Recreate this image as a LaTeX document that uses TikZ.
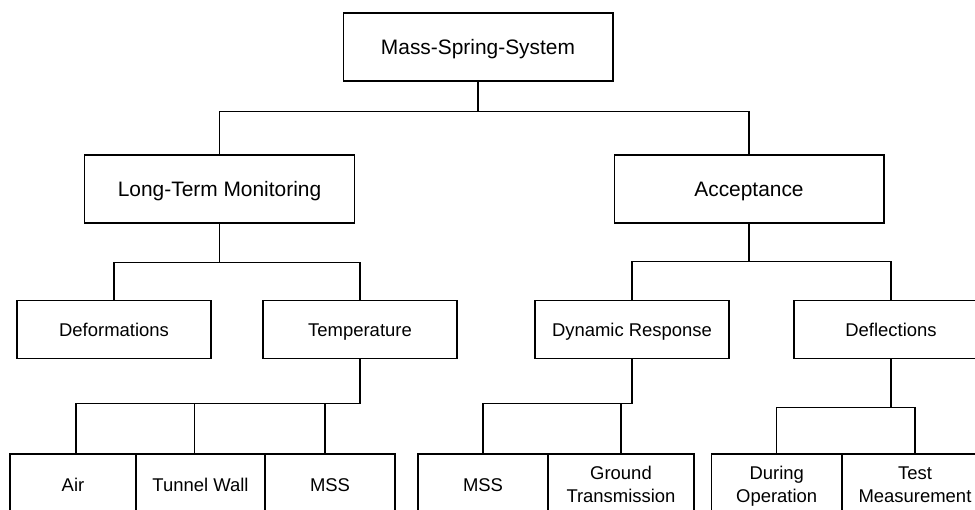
\documentclass[tikz,border=0pt]{standalone}
\usepackage{fontspec}
\setmainfont{Liberation Sans}
\tikzset{
    box/.style={draw, line width=0.6pt, inner sep=0pt, align=center},
    topbox/.style={box, minimum width=5.4cm, minimum height=1.36cm, text height=8.5pt, text depth=0pt, font=\fontsize{11.9}{14}\selectfont},
    subbox/.style={box, minimum width=3.88cm, minimum height=1.15cm, text height=7.5pt, text depth=0pt, font=\fontsize{10.5}{13}\selectfont},
    leafbox/.style={box, minimum height=1.22cm, text depth=0pt, font=\fontsize{10.5}{13.2}\selectfont},
    oneline/.style={text height=7.5pt},
}
\begin{document}
\begin{tikzpicture}[x=0.02cm, y=-0.02cm, line width=0.6pt]
        \path[use as bounding box, clip] (0, 0) rectangle (975, 510);
        % top levels
        \node[topbox] (mss) at (478, 47) {Mass-Spring-System};
        \node[topbox] (ltm) at (219.5, 189) {Long-Term Monitoring};
        \node[topbox] (acc) at (749, 189) {Acceptance};
        % third level
        \node[subbox] (def) at (114, 329.5) {Deformations};
        \node[subbox] (temp) at (360, 329.5) {Temperature};
        \node[subbox] (dyn) at (632, 329.5) {Dynamic Response};
        \node[subbox] (defl) at (891, 329.5) {Deflections};
        % leaves
        \node[leafbox, oneline, minimum width=2.52cm] (air) at (73, 484.5) {Air};
        \node[leafbox, oneline, minimum width=2.58cm] (wall) at (200.5, 484.5) {Tunnel Wall};
        \node[leafbox, oneline, minimum width=2.6cm] (tmss) at (330, 484.5) {MSS};
        \node[leafbox, oneline, minimum width=2.6cm] (dmss) at (483, 484.5) {MSS};
        \node[leafbox, minimum width=2.92cm] (ground) at (621, 484.5) {Ground\\Transmission};
        \node[leafbox, minimum width=2.6cm] (oper) at (776.7, 484.5) {During\\Operation};
        \node[leafbox, minimum width=2.92cm] (test) at (915, 484.5) {Test\\Measurement};
        % connectors
        \foreach \p/\c/\d/\s in {mss/ltm/30/0, mss/acc/30/0, ltm/def/39/0, ltm/temp/39/0,
                acc/dyn/38/0, acc/defl/38/0, temp/air/45/3, temp/wall/45/-6, temp/tmss/45/-5,
                dyn/dmss/45/0, dyn/ground/45/0, defl/oper/49/0, defl/test/49/0}
            \draw (\p.south) -- ++(0, \d) -| ([xshift=\s*0.02cm]\c.north);
    \end{tikzpicture}
\end{document}
